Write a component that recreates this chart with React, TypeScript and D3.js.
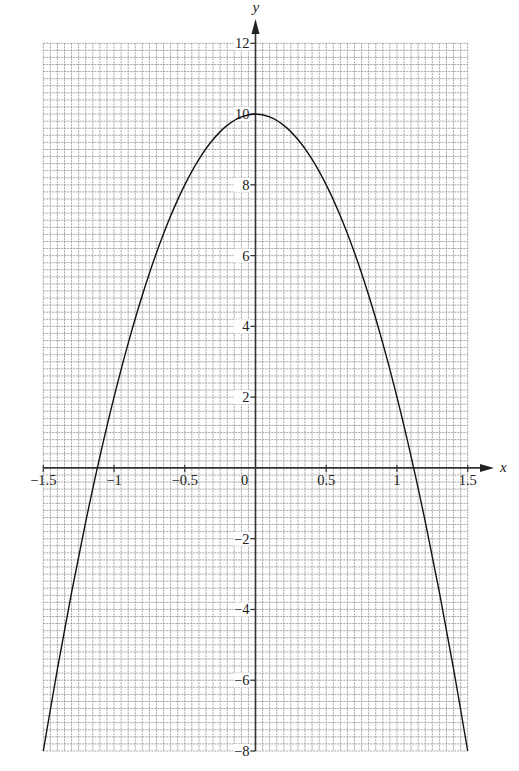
import React from "react";
import * as d3 from "d3";

const xTicks = [-1.5, -1, -0.5, 0, 0.5, 1, 1.5];
const xTickLabels = ["\u22121.5", "\u22121", "\u22120.5", "0", "0.5", "1", "1.5"];
const yTicks = [-8, -6, -4, -2, 2, 4, 6, 8, 10, 12];
const yTickLabels = ["\u22128", "\u22126", "\u22124", "\u22122", "2", "4", "6", "8", "10", "12"];

const curveX = [-1.5, -1.4, -1.3, -1.2, -1.1, -1.0, -0.9, -0.8, -0.7, -0.6, -0.5, -0.4, -0.3, -0.2, -0.1, 0,
  0.1, 0.2, 0.3, 0.4, 0.5, 0.6, 0.7, 0.8, 0.9, 1.0, 1.1, 1.2, 1.3, 1.4, 1.5];
const curveY = [-8, -5.68, -3.52, -1.52, 0.32, 2, 3.52, 4.88, 6.08, 7.12, 8, 8.72, 9.28, 9.68, 9.92, 10,
  9.92, 9.68, 9.28, 8.72, 8, 7.12, 6.08, 4.88, 3.52, 2, 0.32, -1.52, -3.52, -5.68, -8];

export default function App() {
  const W = 519, H = 771;
  const x = d3.scaleLinear().domain([-1.5, 1.5]).range([43.3, 467.7]);
  const y = d3.scaleLinear().domain([-8, 12]).range([751, 43.3]);
  const font = "Liberation Serif, Times New Roman, serif";

  const vGrid = d3.range(0, 61).map((i) => -1.5 + i * 0.05);
  const hGrid = d3.range(0, 101).map((i) => -8 + i * 0.2);

  const line = d3
    .line<number>()
    .x((_, i) => x(curveX[i]))
    .y((d) => y(d))
    .curve(d3.curveCatmullRom.alpha(0.5));

  const x0 = x(0), y0 = y(0);

  return (
    <svg width={W} height={H} style={{ position: "absolute", left: 0, top: 0, background: "#fff" }}>
      <g>
        {vGrid.map((v, i) => (
          <line key={"v" + i} x1={x(v)} x2={x(v)} y1={y(12)} y2={y(-8)}
            stroke="#8f8f8f" strokeWidth={0.8} strokeDasharray="2,1" />
        ))}
        {hGrid.map((v, i) => (
          <line key={"h" + i} x1={x(-1.5)} x2={x(1.5)} y1={y(v)} y2={y(v)}
            stroke="#8f8f8f" strokeWidth={0.8} strokeDasharray="2,1" />
        ))}
      </g>
      {yTicks.map((t, i) => (
        <g key={"yt" + i}>
          <rect x={x0 - 22} y={y(t) - 7} width={16} height={14} fill="#fff" />
          <text x={x0 - 6} y={y(t) + 5} textAnchor="end" fontFamily={font} fontSize={14.5} fill="#222">
            {yTickLabels[i]}
          </text>
          <line x1={x0 - 5} x2={x0} y1={y(t)} y2={y(t)} stroke="#333" strokeWidth={1.2} />
        </g>
      ))}
      {xTicks.map((t, i) => (
        <g key={"xt" + i}>
          {t !== 0 && (
            <line x1={x(t)} x2={x(t)} y1={y0 - 3} y2={y0 + 4} stroke="#333" strokeWidth={1.2} />
          )}
          <text x={t === 0 ? x0 - 11 : x(t)} y={y0 + 17} textAnchor="middle" fontFamily={font} fontSize={14.5} fill="#222">
            {xTickLabels[i]}
          </text>
        </g>
      ))}
      <line x1={x(-1.5)} x2={482} y1={y0} y2={y0} stroke="#333" strokeWidth={1.6} />
      <path d={`M${494},${y0} L${480},${y0 - 4} L${480},${y0 + 4} Z`} fill="#222" />
      <line x1={x0} x2={x0} y1={y(-8)} y2={32} stroke="#333" strokeWidth={1.6} />
      <path d={`M${x0},${19} L${x0 - 4},${34} L${x0 + 4},${34} Z`} fill="#222" />
      <text x={500} y={y0 + 4} fontFamily={font} fontStyle="italic" fontSize={15} fill="#222">x</text>
      <text x={x0 - 3} y={12} fontFamily={font} fontStyle="italic" fontSize={15} fill="#222">y</text>
      <path d={line(curveY) || ""} fill="none" stroke="#111" strokeWidth={1.4} />
    </svg>
  );
}
